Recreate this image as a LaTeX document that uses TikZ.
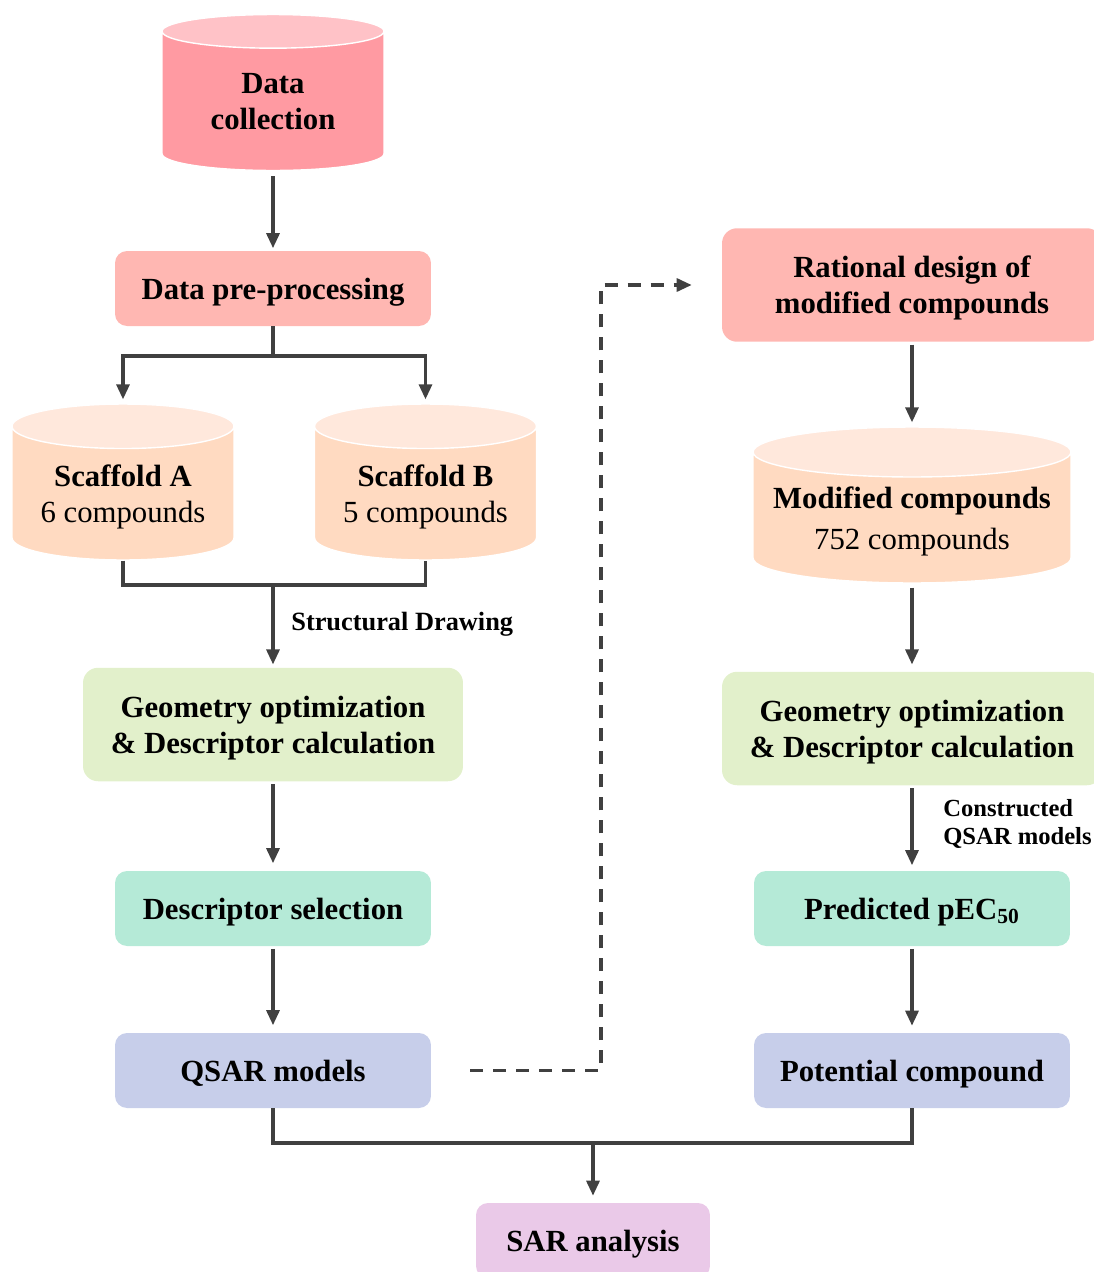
\documentclass[tikz,border=0pt]{standalone}
\usepackage{fontspec}
\setmainfont{Liberation Serif}
\usetikzlibrary{arrows.meta,shapes.geometric}
\definecolor{flowInk}{HTML}{404040}
\definecolor{flowRose}{HTML}{FF9AA2}
\definecolor{flowRoseTop}{HTML}{FFC2C7}
\definecolor{flowSalmon}{HTML}{FFB7B2}
\definecolor{flowPeach}{HTML}{FFDAC1}
\definecolor{flowPeachTop}{HTML}{FFE8DC}
\definecolor{flowLime}{HTML}{E2F0CB}
\definecolor{flowMint}{HTML}{B5EAD7}
\definecolor{flowLavender}{HTML}{C7CEEA}
\definecolor{flowOrchid}{HTML}{EAC9E8}
\tikzset{
  every picture/.style={font=\fontsize{17.5}{20.5}\selectfont\bfseries, text=black},
  flow box/.style={rectangle, rounded corners=2.4mm, align=center, inner sep=0pt,
    text depth=0pt, minimum width=6.32cm, minimum height=1.5cm},
  flow wide/.style={flow box, rounded corners=3mm, minimum width=7.6cm, minimum height=2.27cm},
  flow db/.style={cylinder, shape border rotate=90, cylinder uses custom fill,
    draw=white, line width=0.8pt, align=center, inner sep=0pt, aspect=0.27,
    text depth=0pt, minimum width=4.44cm, minimum height=3.12cm, anchor=shape center},
  flow line/.style={draw=flowInk, line width=1.8pt},
  flow arrow/.style={flow line, -{Triangle[length=3mm,width=2.6mm]}},
  flow dashed/.style={flow arrow, dash pattern=on 2.6mm off 2mm},
  flow note/.style={font=\fontsize{15}{17}\selectfont\bfseries, align=left, inner sep=0pt}
}
\begin{document}
\begin{tikzpicture}[x=0.02cm,y=-0.02cm]
  \useasboundingbox (0,0) rectangle (1094,1272);
  \clip (0,0) rectangle (1094,1272);
  % left column
  \node[flow db, cylinder body fill=flowRose, cylinder end fill=flowRoseTop] (collect) at (273,92.5) {Data\\collection};
  \node[flow box, fill=flowSalmon] (prep) at (273,288.5) {Data pre-processing};
  \node[flow db, cylinder body fill=flowPeach, cylinder end fill=flowPeachTop] (scafA) at (123,482) {Scaffold A\\{\mdseries 6 compounds}};
  \node[flow db, cylinder body fill=flowPeach, cylinder end fill=flowPeachTop] (scafB) at (425.5,482) {Scaffold B\\{\mdseries 5 compounds}};
  \node[flow wide, fill=flowLime] (geoL) at (273,724.5) {Geometry optimization\\\& Descriptor calculation};
  \node[flow box, fill=flowMint] (select) at (273,908.5) {Descriptor selection};
  \node[flow box, fill=flowLavender] (qsar) at (273,1070.5) {QSAR models};
  % right column
  \node[flow wide, fill=flowSalmon] (design) at (912,285) {Rational design of\\modified compounds};
  \node[flow db, cylinder body fill=flowPeach, cylinder end fill=flowPeachTop, minimum width=6.36cm, aspect=0.18] (modif) at (912,505) {Modified compounds\\[1mm]{\mdseries 752 compounds}};
  \node[flow wide, fill=flowLime] (geoR) at (912,728.5) {Geometry optimization\\\& Descriptor calculation};
  \node[flow box, fill=flowMint] (predict) at (912,908.5) {Predicted pEC\textsubscript{50}};
  \node[flow box, fill=flowLavender] (potent) at (912,1070.5) {Potential compound};
  \node[flow box, fill=flowOrchid, minimum width=4.68cm] (sar) at (593,1240.5) {SAR analysis};
  % labels
  \node[flow note, anchor=west] (drawLbl) at (291,624) {Structural Drawing};
  \node[flow note, font=\fontsize{14}{16}\selectfont\bfseries, anchor=west] (modelLbl) at (943,824) {Constructed\\QSAR models};
  % connectors
  \coordinate (split) at (273,356);
  \coordinate (merge) at (273,585);
  \coordinate (gather) at (593,1143);
  \coordinate (bend) at (601,285);
  \draw[flow arrow, shorten <=1mm, shorten >=0.5mm] (collect.south) -- (prep.north);
  \draw[flow line] (prep.south) -- (split);
  \draw[flow arrow, shorten >=0.8mm] (split) -| (scafA.north);
  \draw[flow arrow, shorten >=0.8mm] (split) -| (scafB.north);
  \draw[flow line] (scafA.south) |- (merge) -| (scafB.south);
  \draw[flow arrow, shorten >=0.6mm] (merge) -- (geoL.north);
  \draw[flow arrow, shorten <=0.5mm, shorten >=1.5mm] (geoL.south) -- (select.north);
  \draw[flow arrow, shorten <=0.5mm, shorten >=1.5mm] (select.south) -- (qsar.north);
  \draw[flow line] (qsar.south) |- (gather) -| (potent.south);
  \draw[flow arrow, shorten >=1.4mm] (gather) -- (sar.north);
  \draw[flow dashed] ([xshift=0.78cm]qsar.east) -| (bend) -- ([xshift=-0.6cm]design.west);
  \draw[flow arrow, shorten <=0.5mm, shorten >=0.8mm] (design.south) -- (modif.north);
  \draw[flow arrow, shorten <=0.8mm, shorten >=1.4mm] (modif.south) -- (geoR.north);
  \draw[flow arrow, shorten <=0.5mm, shorten >=1.1mm] (geoR.south) -- (predict.north);
  \draw[flow arrow, shorten <=0.5mm, shorten >=1.4mm] (predict.south) -- (potent.north);
\end{tikzpicture}
\end{document}
